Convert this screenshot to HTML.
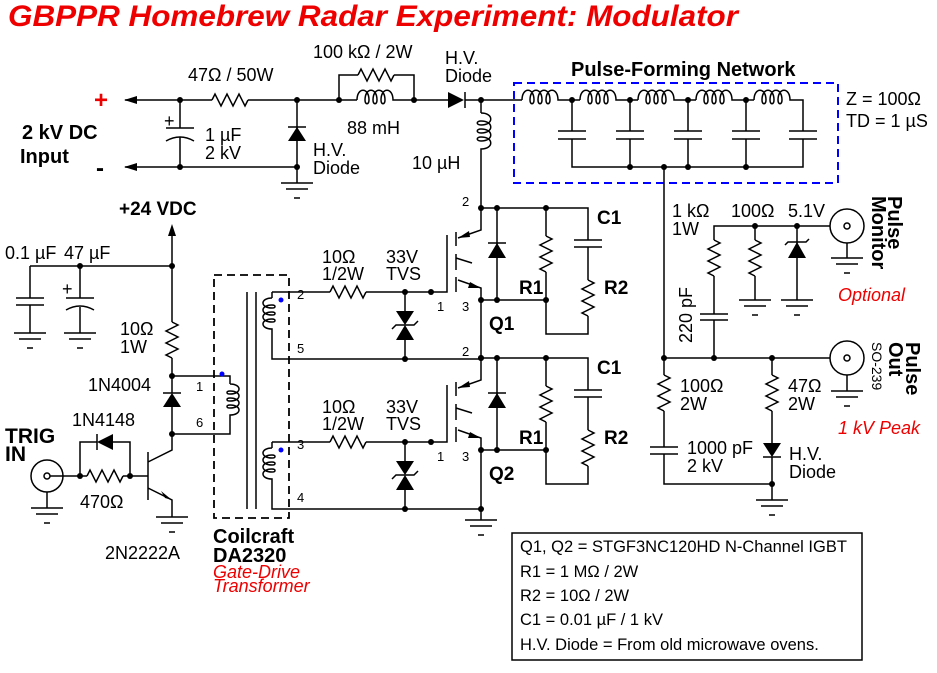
<!DOCTYPE html>
<html><head><meta charset="utf-8"><style>
html,body{margin:0;padding:0;background:#fff;}
svg{display:block;font-family:"Liberation Sans",sans-serif;}
.w{stroke:#000;stroke-width:1.5;fill:none}
.t{font-size:18px}
.b{font-size:19px;font-weight:bold}
.p{font-size:13px}
.r{fill:#e00;font-style:italic;font-size:18px}
</style></head><body>
<svg width="937" height="673" viewBox="0 0 937 673">
<defs>
<g id="gnd"><path class="w" d="M-16 0H16M-11 6H11"/><path class="w" d="M-3 15H3" stroke-width="1.2"/></g>
<g id="rv"><path class="w" d="M0 0l6 3l-12 6l12 6l-12 6l12 6l-12 6l6 3"/></g>
<g id="rh"><path class="w" d="M0 0l3 -6l6 12l6 -12l6 12l6 -12l6 12l3 -6"/></g>
<g id="lh"><path class="w" d="M0 0c0 -13 12 -13 12 0c0 5 -4 5 -4 0c0 -13 12 -13 12 0c0 5 -4 5 -4 0c0 -13 12 -13 12 0c0 5 -4 5 -4 0c0 -13 12 -13 12 0l4 0"/></g>
<g id="dot"><circle r="3" fill="#000"/></g>
</defs>
<text x="8" y="26" fill="#e00" font-size="30" font-weight="bold" font-style="italic" textLength="730" lengthAdjust="spacingAndGlyphs">GBPPR Homebrew Radar Experiment: Modulator</text>

<!-- HV input -->
<text x="94" y="108" fill="#e00" font-size="24" font-weight="bold">+</text>
<text x="96" y="176" font-size="24" font-weight="bold">-</text>
<text x="22" y="139" font-size="20" font-weight="bold">2 kV DC</text>
<text x="20" y="163" font-size="20" font-weight="bold">Input</text>
<path class="w" d="M125 100H212M248 100H339V75H358M394 75H414V100H448M465 100H518M125 167H297V183M180 100V128M180 137V167M297 100V167M414 100H397M339 100H357"/>
<polygon points="124,100 137,96 137,104"/><polygon points="124,167 137,163 137,171"/>
<path class="w" d="M166 128H194M166 141q14 -8 28 0"/>
<text x="164" y="127" font-size="18">+</text>
<text x="205" y="141" class="t">1 µF</text><text x="205" y="159" class="t">2 kV</text>
<use href="#rh" x="212" y="100"/><text x="188" y="81" class="t">47Ω / 50W</text>
<polygon points="288,141 306,141 297,127"/><path class="w" d="M288 127H306"/>
<use href="#gnd" x="297" y="183"/>
<text x="313" y="156" class="t">H.V.</text><text x="313" y="174" class="t">Diode</text>
<use href="#rh" x="358" y="75"/><use href="#lh" x="357" y="100"/>
<text x="313" y="58" class="t">100 kΩ / 2W</text><text x="347" y="134" class="t">88 mH</text>
<polygon points="448,92 448,108 464,100"/><path class="w" d="M465 92V108"/>
<text x="445" y="64" class="t">H.V.</text><text x="445" y="82" class="t">Diode</text>
<use href="#dot" x="180" y="100"/><use href="#dot" x="297" y="100"/><use href="#dot" x="180" y="167"/><use href="#dot" x="297" y="167"/><use href="#dot" x="339" y="100"/><use href="#dot" x="414" y="100"/><use href="#dot" x="481" y="100"/>
<path class="w" d="M481 100V113M481 153V208"/>
<use href="#lh" transform="translate(481,113) rotate(90)"/>
<text x="412" y="169" class="t">10 µH</text>

<!-- PFN -->
<rect x="514" y="83" width="324" height="100" fill="none" stroke="#00f" stroke-width="2" stroke-dasharray="8,5"/>
<text x="571" y="76" font-size="20" font-weight="bold">Pulse-Forming Network</text>
<text x="846" y="105" class="t">Z = 100Ω</text><text x="846" y="127" class="t">TD = 1 µS</text>
<path class="w" d="M518 100H522M562 100H580M620 100H638M678 100H696M736 100H754M794 100H803V131M572 100V131M630 100V131M688 100V131M746 100V131M572 139V167H803V139M630 139V167M688 139V167M746 139V167M664 167V358"/>
<use href="#lh" x="522" y="100"/><use href="#lh" x="580" y="100"/><use href="#lh" x="638" y="100"/><use href="#lh" x="696" y="100"/><use href="#lh" x="754" y="100"/>
<path class="w" d="M558 131H586M558 139H586M616 131H644M616 139H644M674 131H702M674 139H702M732 131H760M732 139H760M789 131H817M789 139H817"/>
<use href="#dot" x="572" y="100"/><use href="#dot" x="630" y="100"/><use href="#dot" x="688" y="100"/><use href="#dot" x="746" y="100"/>
<use href="#dot" x="630" y="167"/><use href="#dot" x="664" y="167"/><use href="#dot" x="688" y="167"/><use href="#dot" x="746" y="167"/>

<!-- Q1 / Q2 -->
<g id="qs">
<path class="w" d="M481 208H588V240M481 208V230L458 238M458 280L481 288V300H546M497 208V300M546 208V236M546 272V334H588V316M588 247V280M447 235V292H431M456 232V246M456 254V270M456 277V292M456 258L472 263"/>
<polygon points="458,238 469,231 470,237"/>
<polygon points="481,288 470,282 468,288"/>
<path class="w" d="M574 240H602M574 247H602"/>
<use href="#rv" x="546" y="236"/><use href="#rv" x="588" y="280"/>
<polygon points="488,258 506,258 497,243"/><path class="w" d="M488 243H506"/>
<use href="#dot" x="481" y="208"/><use href="#dot" x="497" y="208"/><use href="#dot" x="546" y="208"/><use href="#dot" x="481" y="300"/><use href="#dot" x="497" y="300"/><use href="#dot" x="546" y="300"/><use href="#dot" x="431" y="292"/>
<text x="462" y="206" class="p">2</text><text x="437" y="311" class="p">1</text><text x="462" y="311" class="p">3</text>
<text x="519" y="294" class="b">R1</text><text x="597" y="224" class="b">C1</text><text x="604" y="294" class="b">R2</text>
<path class="w" d="M272 292V298M272 340V359H481M272 292H330M366 292H431M405 292V311M405 340V359"/>
<path class="w" d="M272 298c-12 0 -12 10 0 10c4 0 4 -3 0 -3c-12 0 -12 10 0 10c4 0 4 -3 0 -3c-12 0 -12 10 0 10c4 0 4 -3 0 -3c-12 0 -12 10 0 10V340"/>
<circle cx="281" cy="300" r="2.5" fill="#00f"/>
<use href="#rh" x="330" y="292"/>
<polygon points="396,311 414,311 405,325"/><polygon points="396,340 414,340 405,325"/><path class="w" d="M392 329L396 325H414L418 321"/>
<use href="#dot" x="405" y="292"/><use href="#dot" x="405" y="359"/>
<text x="322" y="263" class="t">10Ω</text><text x="322" y="280" class="t">1/2W</text>
<text x="386" y="263" class="t">33V</text><text x="386" y="280" class="t">TVS</text>
</g>
<use href="#qs" y="150"/>
<path class="w" d="M481 300V358M481 450V520"/>
<use href="#dot" x="481" y="358"/><use href="#dot" x="481" y="509"/>
<use href="#gnd" x="481" y="520"/>
<text x="489" y="330" class="b">Q1</text><text x="489" y="480" class="b">Q2</text>
<text x="297" y="299" class="p">2</text><text x="297" y="353" class="p">5</text>
<text x="297" y="449" class="p">3</text><text x="297" y="502" class="p">4</text>

<!-- transformer -->
<rect x="214" y="275" width="75" height="243" fill="none" stroke="#000" stroke-width="1.8" stroke-dasharray="8,5"/>
<path class="w" d="M247 292V509M256 292V509"/>
<path class="w" d="M172 376H230V384M172 434H230V424M230 384c12 0 12 10 0 10c-4 0 -4 -3 0 -3c12 0 12 10 0 10c-4 0 -4 -3 0 -3c12 0 12 10 0 10c-4 0 -4 -3 0 -3c12 0 12 10 0 10V424"/>
<circle cx="222" cy="374" r="2.5" fill="#00f"/>
<text x="196" y="391" class="p">1</text><text x="196" y="427" class="p">6</text>
<text x="213" y="543" font-size="20" font-weight="bold">Coilcraft</text><text x="213" y="562" font-size="20" font-weight="bold">DA2320</text>
<text x="213" y="578" class="r" font-size="15">Gate-Drive</text><text x="213" y="592" class="r" font-size="15">Transformer</text>

<!-- 24V / trigger -->
<text x="119" y="215" class="b">+24 VDC</text>
<polygon points="172,224 168,236 176,236"/>
<path class="w" d="M172 230V322M172 358V393M172 407V450L148 462M148 452V500M148 488L172 500V517M30 266H172M30 266V298M30 305V333M80 266V298M80 307V333M130 476H148M50 476H87M123 476H130M80 476V442H97M113 442H130V476"/>
<path class="w" d="M16 298H44M16 305H44M66 298H94M66 310q14 -8 28 0"/>
<text x="62" y="295" font-size="18">+</text>
<use href="#gnd" x="30" y="333"/><use href="#gnd" x="80" y="333"/>
<text x="5" y="259" class="t">0.1 µF</text><text x="64" y="259" class="t">47 µF</text>
<use href="#dot" x="172" y="266"/><use href="#dot" x="80" y="266"/>
<use href="#rv" x="172" y="322"/>
<text x="120" y="335" class="t">10Ω</text><text x="120" y="353" class="t">1W</text>
<polygon points="163,407 181,407 172,393"/><path class="w" d="M163 393H181"/>
<text x="88" y="391" class="t">1N4004</text>
<use href="#dot" x="172" y="376"/><use href="#dot" x="172" y="434"/>
<polygon points="172,500 161,491 165,498"/>
<use href="#gnd" x="172" y="517"/>
<text x="105" y="559" class="t">2N2222A</text>
<use href="#rh" x="87" y="476"/>
<polygon points="97,442 113,434 113,450"/><path class="w" d="M97 434V450"/>
<use href="#dot" x="80" y="476"/><use href="#dot" x="130" y="476"/>
<text x="72" y="426" class="t">1N4148</text><text x="80" y="508" class="t">470Ω</text>
<circle cx="47" cy="476" r="16" class="w"/><circle cx="47" cy="476" r="3" class="w"/>
<path class="w" d="M47 492V508"/><use href="#gnd" x="47" y="508"/>
<text x="5" y="443" font-size="21" font-weight="bold">TRIG</text><text x="5" y="461" font-size="21" font-weight="bold">IN</text>

<!-- output -->
<path class="w" d="M664 358H830M714 358V320M714 314V276M714 240V226H830M755 226V240M755 276V300M797 226V300M847 243V258M847 375V391M664 358V375M664 411V447M664 454V484H772M772 358V375M772 411V443M772 457V500"/>
<circle cx="847" cy="226" r="17" class="w"/><circle cx="847" cy="226" r="3" class="w"/>
<circle cx="847" cy="358" r="17" class="w"/><circle cx="847" cy="358" r="3" class="w"/>
<use href="#gnd" x="847" y="258"/><use href="#gnd" x="847" y="391"/>
<use href="#rv" x="714" y="240"/><use href="#rv" x="755" y="240"/>
<use href="#gnd" x="755" y="300"/><use href="#gnd" x="797" y="300"/>
<polygon points="788,258 806,258 797,242"/><path class="w" d="M785 245L788 242H806L809 239"/>
<path class="w" d="M700 314H728M700 320H728M650 447H678M650 454H678"/>
<use href="#rv" x="664" y="375"/><use href="#rv" x="772" y="375"/>
<polygon points="763,443 781,443 772,457"/><path class="w" d="M763 457H781"/>
<use href="#gnd" x="772" y="500"/>
<use href="#dot" x="664" y="358"/><use href="#dot" x="714" y="358"/><use href="#dot" x="772" y="358"/><use href="#dot" x="755" y="226"/><use href="#dot" x="797" y="226"/><use href="#dot" x="772" y="484"/>
<text x="672" y="217" class="t">1 kΩ</text><text x="672" y="235" class="t">1W</text>
<text x="731" y="217" class="t">100Ω</text><text x="788" y="217" class="t">5.1V</text>
<text transform="translate(692,343) rotate(-90)" class="t">220 pF</text>
<text x="680" y="392" class="t">100Ω</text><text x="680" y="410" class="t">2W</text>
<text x="687" y="454" class="t">1000 pF</text><text x="687" y="472" class="t">2 kV</text>
<text x="788" y="392" class="t">47Ω</text><text x="788" y="410" class="t">2W</text>
<text x="789" y="460" class="t">H.V.</text><text x="789" y="478" class="t">Diode</text>
<text transform="translate(888,196) rotate(90)" font-size="20" font-weight="bold">Pulse</text>
<text transform="translate(872,196) rotate(90)" font-size="20" font-weight="bold">Monitor</text>
<text transform="translate(906,342) rotate(90)" font-size="20" font-weight="bold">Pulse</text>
<text transform="translate(889,342) rotate(90)" font-size="20" font-weight="bold">Out</text>
<text transform="translate(872,342) rotate(90)" font-size="14">SO-239</text>
<text x="838" y="301" class="r">Optional</text>
<text x="838" y="434" class="r">1 kV Peak</text>

<!-- legend -->
<rect x="512" y="533" width="350" height="127" fill="none" stroke="#000" stroke-width="1.5"/>
<text x="520" y="552" font-size="16.5">Q1, Q2 = STGF3NC120HD N-Channel IGBT</text>
<text x="520" y="577" font-size="16.5">R1 = 1 MΩ / 2W</text>
<text x="520" y="601" font-size="16.5">R2 = 10Ω / 2W</text>
<text x="520" y="625" font-size="16.5">C1 = 0.01 µF / 1 kV</text>
<text x="520" y="650" font-size="16.5">H.V. Diode = From old microwave ovens.</text>
</svg>
</body></html>
